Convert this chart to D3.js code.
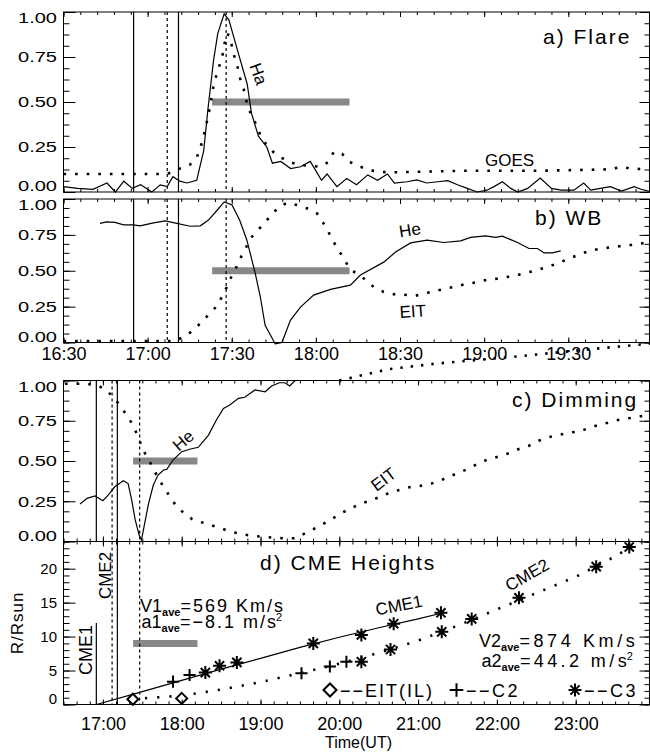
<!DOCTYPE html>
<html>
<head>
<meta charset="utf-8">
<script src="https://cdn.jsdelivr.net/npm/d3@7"></script>
<style>
  body { margin: 0; background: #fff; }
  svg text { font-family: "Liberation Sans", Arial, sans-serif; fill: #000; }
</style>
</head>
<body>
<script>
// ---------------- data ----------------
// panels a) and b): [minutes after 16:30 UT, normalised value]
var haFlare = [[0,0.03],[5,0.02],[10.5,0.015],[15.5,0.05],[18.5,0],[21.5,0.06],[24.5,0.02],[27.5,0.04],[31.5,0],[34.5,0.04],[37,0.03],[39,0.085],[41.5,0.06],[44,0.05],[47.5,0.065],[50,0.23],[51.5,0.46],[53.5,0.73],[55,0.88],[57.3,0.99],[59,0.955],[62,0.79],[65.5,0.6],[67,0.44],[69.5,0.31],[72.5,0.25],[74.5,0.16],[77.5,0.17],[81,0.13],[84.5,0.14],[88,0.17],[92,0.065],[94,0.1],[97.5,0.03],[101,0.075],[104.5,0.04],[108.5,0.095],[112,0.065],[115.5,0.1],[118,0.05],[122.5,0.057],[126,0.067],[129.5,0.05],[133.5,0.057],[137,0.063],[140.5,0.04],[144,0.02],[147.5,0],[151,0.01],[153.5,0.03],[156.5,0.057],[159.5,0.02],[162,0],[165.5,0.02],[170,0.078],[174,0.02],[177.5,0.01],[182,0.01],[185.5,0.05],[188,0.01],[191.5,0.02],[195,0.03],[199,0.005],[203.5,0.03],[206,0.015],[209.5,0]];
var goesFlare = [[0,0.1],[37,0.1],[41,0.128],[45,0.15],[47.5,0.19],[49.5,0.28],[51,0.38],[52.2,0.47],[53.5,0.59],[54.7,0.66],[56,0.72],[57,0.78],[58,0.88],[59.2,0.87],[60.6,0.77],[62,0.7],[63,0.63],[64.2,0.576],[65.7,0.474],[67.2,0.42],[68.8,0.372],[70.2,0.316],[72,0.27],[74.7,0.224],[77.7,0.19],[81,0.165],[84.5,0.15],[88,0.146],[91.6,0.14],[94.6,0.168],[96.4,0.224],[99.4,0.211],[102,0.168],[105.3,0.144],[109,0.122],[112.4,0.113],[116,0.109],[143,0.118],[170,0.118],[195,0.126],[198.8,0.14],[202,0.13],[209,0.126]];
var heWB = [[13,0.83],[15.4,0.84],[18.4,0.837],[21.4,0.82],[24.9,0.82],[27.3,0.813],[32.1,0.834],[36.3,0.848],[40.4,0.83],[45.2,0.81],[48.8,0.813],[51.7,0.853],[54.7,0.92],[57.3,0.98],[60.1,0.958],[62.8,0.853],[65.4,0.713],[68.4,0.48],[70.2,0.317],[71.9,0.12],[75.5,-0.01],[77.9,0],[80.9,0.154],[84.5,0.247],[89.2,0.33],[95.2,0.37],[102.3,0.4],[105.9,0.47],[114.2,0.56],[118.4,0.63],[123.8,0.694],[129.7,0.713],[135.6,0.697],[141.6,0.708],[145.2,0.732],[150.5,0.743],[154.1,0.732],[156.5,0.741],[161.9,0.697],[166,0.655],[169,0.655],[171.4,0.624],[174.4,0.624],[177.3,0.638]];
var eitWB = [[0,0.01],[40,0.01],[44.6,0.06],[47.6,0.11],[50.3,0.166],[52.7,0.21],[55.3,0.27],[56.9,0.336],[58.6,0.4],[60.1,0.47],[61.8,0.53],[63.4,0.6],[65.2,0.667],[66.9,0.73],[69.2,0.78],[72,0.84],[74.4,0.895],[77.1,0.95],[79.9,0.974],[83.3,0.958],[86.8,0.935],[90.4,0.9],[92.5,0.837],[94.5,0.77],[96.1,0.708],[98.1,0.643],[100.2,0.578],[102,0.515],[104.9,0.475],[107.7,0.438],[110.6,0.387],[114.2,0.352],[117.8,0.336],[121.4,0.333],[125.5,0.326],[128.5,0.34],[132.7,0.36],[136.2,0.375],[139.8,0.39],[144,0.41],[147.5,0.42],[151.1,0.438],[154.7,0.445],[158.3,0.457],[162.4,0.473],[166,0.49],[169.5,0.508],[173.1,0.53],[176.7,0.555],[180.3,0.585],[183.9,0.613],[187.4,0.638],[191,0.652],[194.6,0.662],[198.2,0.671],[201.8,0.678],[205.4,0.69],[208.9,0.694]];

// panel c): [decimal hours UT, normalised value]
var heDim = [[16.71,0.233],[16.8,0.268],[16.9,0.283],[17,0.253],[17.07,0.289],[17.15,0.34],[17.26,0.378],[17.32,0.36],[17.365,0.258],[17.41,0.134],[17.46,0.04],[17.49,0.01],[17.53,0.113],[17.58,0.237],[17.64,0.351],[17.7,0.413],[17.77,0.444],[17.81,0.448],[17.89,0.506],[18,0.558],[18.1,0.573],[18.21,0.585],[18.34,0.661],[18.44,0.755],[18.53,0.827],[18.61,0.848],[18.72,0.889],[18.8,0.896],[18.93,0.941],[19.06,0.93],[19.14,0.966],[19.24,0.986],[19.31,0.986],[19.37,0.966],[19.44,1]];
var eitDim = [[16.52,0.98],[16.65,0.98],[16.79,0.98],[16.92,0.97],[17.04,0.945],[17.12,0.9],[17.21,0.85],[17.28,0.8],[17.36,0.74],[17.42,0.68],[17.47,0.62],[17.52,0.56],[17.59,0.5],[17.65,0.44],[17.71,0.39],[17.78,0.33],[17.85,0.28],[17.93,0.22],[18.02,0.18],[18.13,0.14],[18.25,0.12],[18.38,0.1],[18.51,0.08],[18.63,0.06],[18.76,0.047],[18.9,0.034],[19.03,0.03],[19.16,0.024],[19.3,0.02],[19.43,0.02],[19.55,0.047],[19.67,0.076],[19.78,0.105],[19.9,0.138],[20.02,0.175],[20.15,0.206],[20.26,0.233],[20.39,0.253],[20.52,0.278],[20.64,0.303],[20.76,0.32],[20.89,0.337],[21.02,0.345],[21.15,0.357],[21.28,0.378],[21.41,0.407],[21.52,0.427],[21.65,0.455],[21.77,0.486],[21.89,0.511],[22.02,0.527],[22.15,0.548],[22.27,0.573],[22.4,0.593],[22.53,0.626],[22.65,0.647],[22.78,0.661],[22.91,0.676],[23.03,0.682],[23.16,0.703],[23.29,0.724],[23.41,0.738],[23.54,0.755],[23.67,0.765],[23.79,0.775],[23.92,0.786]];
var extraDim = [[20,1],[20.62,1.07],[21.25,1.106],[22.2,1.147],[23.16,1.193],[23.96,1.23]];

// panel d): [decimal hours UT, R/Rsun]
var cme1Fit = [[16.92,0],[17.5,1.9],[18,3.55],[18.5,5.2],[19,6.8],[19.5,8.4],[20,9.9],[20.5,11.3],[21,12.6],[21.28,13.4]];
var cme2Fit = [[17.38,0.8],[18,1.3],[18.5,2.2],[19,3.3],[19.5,4.6],[20,6],[20.5,7.6],[21,9.4],[21.5,11.6],[22,14],[22.5,16.4],[23,18.8],[23.5,21.8],[23.75,23.6]];
var c3Heights = [[18.3,4.7],[18.48,5.7],[18.7,6.2],[19.67,9],[20.28,10.25],[20.69,11.9],[21.29,13.5],[20.28,6.3],[20.65,8.1],[21.3,10.7],[21.68,12.6],[22.28,15.7],[23.26,20.3],[23.68,23.2]];
var c2Heights = [[17.89,3.36],[18.1,4.35],[19.52,4.6],[19.88,5.6],[20.09,6.3]];
var eitHeights = [[17.38,0.77],[18,0.9]];

// event markers, minutes after 16:30 UT (16:55, 17:11 solid; 17:07, 17:28 dotted)
var solidMarks = [25, 41];
var dottedMarks = [37, 58];
var barSpan = [53, 102];          // 17:23 - 18:12
var barLevels = [0.5, 0.5, 0.5, 9];

// ticks
var abTicks = [0, 30, 60, 90, 120, 150, 180];
var abLabels = ["16:30", "17:00", "17:30", "18:00", "18:30", "19:00", "19:30"];
var cdTicks = [17, 18, 19, 20, 21, 22, 23];
var cdLabels = ["17:00", "18:00", "19:00", "20:00", "21:00", "22:00", "23:00"];
var unitTicks = [0, 0.25, 0.5, 0.75, 1];
var unitLabels = ["0.00", "0.25", "0.50", "0.75", "1.00"];
var heightTicks = [0, 5, 10, 15, 20];
var heightLabels = ["0", "5", "10", "15", "20"];

// ---------------- layout ----------------
var L = 63.5, R = 649.5;
var svg = d3.select("body").append("svg").attr("width", 650).attr("height", 752);

var xAB = d3.scaleLinear().domain([0, 210]).range([L, 652.4]);
var xCD = d3.scaleLinear().domain([16.5, 24]).range([L, 654.5]);
var yA = d3.scaleLinear().domain([0, 1]).range([192, 12]);
var yB = d3.scaleLinear().domain([0, 1]).range([342.5, 199]);
var yC = d3.scaleLinear().domain([0, 1]).range([541.5, 380.5]);
var yD = d3.scaleLinear().domain([0, 24]).range([704.5, 541.5]);

function hours(m) { return 16.5 + m / 60; }

function inside(x) {
    return function (v) { return x(v) <= R + 0.1; };
}

function put(g, axis, tx, ty) {
    var a = g.append("g").attr("transform", "translate(" + tx + "," + ty + ")").call(axis);
    a.select(".domain").remove();
    a.attr("font-family", "Liberation Sans").attr("font-size", 15);
    a.selectAll("line").attr("stroke", "black");
    return a;
}

function frame(x, y, top, bottom, xMaj, xMin, xLab, xPad, yMaj, yMin, yLab, stretch) {
    var g = svg.append("g");
    put(g, d3.axisLeft(y).tickValues(yMin).tickSize(-6).tickFormat(""), L, 0);
    var yl = put(g, d3.axisLeft(y).tickValues(yMaj).tickSize(-12).tickPadding(6.5)
        .tickFormat(function (d, i) { return yLab[i]; }), L, 0);
    put(g, d3.axisRight(y).tickValues(yMin).tickSize(-5).tickFormat(""), R, 0);
    put(g, d3.axisRight(y).tickValues(yMaj).tickSize(-10).tickFormat(""), R, 0);
    put(g, d3.axisTop(x).tickValues(xMin).tickSize(-3).tickFormat(""), 0, top);
    put(g, d3.axisTop(x).tickValues(xMaj).tickSize(-5).tickFormat(""), 0, top);
    put(g, d3.axisBottom(x).tickValues(xMin).tickSize(-3).tickFormat(""), 0, bottom);
    var xl = put(g, d3.axisBottom(x).tickValues(xMaj).tickSize(-5).tickPadding(xPad)
        .tickFormat(function (d, i) { return xLab ? xLab[i] : ""; }), 0, bottom);
    xl.attr("font-size", 18);

    if (stretch) {
        yl.selectAll("text").attr("textLength", 39).attr("lengthAdjust", "spacingAndGlyphs");
    }
    // end labels sit a bit inside the frame
    yl.selectAll(".tick").filter(function (d) { return d === y.domain()[0]; })
        .select("text").attr("transform", "translate(0,-6)");
    yl.selectAll(".tick").filter(function (d) { return d === y.domain()[1]; })
        .select("text").attr("transform", "translate(0,6)");

    g.append("rect")
        .attr("x", L).attr("y", top)
        .attr("width", R - L).attr("height", bottom - top)
        .attr("fill", "none").attr("stroke", "black").attr("stroke-width", 1);
}

function curve(data, x, y, dotted, dash) {
    var line = d3.line()
        .x(function (d) { return x(d[0]); })
        .y(function (d) { return y(d[1]); });
    var p = svg.append("path").attr("d", line(data))
        .attr("fill", "none").attr("stroke", "black");
    if (dotted) p.attr("stroke-width", 2.6).attr("stroke-dasharray", dash || "2.6,9");
    else p.attr("stroke-width", 1.2);
    return p;
}

function vline(x, t, y0, y1, dotted) {
    var l = svg.append("line")
        .attr("x1", x(t)).attr("x2", x(t))
        .attr("y1", y0).attr("y2", y1)
        .attr("stroke", "black").attr("stroke-width", 1.2);
    if (dotted) l.attr("stroke-dasharray", "3,3");
}

function grayBar(x, y, t0, t1, level) {
    svg.append("line")
        .attr("x1", x(t0)).attr("x2", x(t1))
        .attr("y1", y(level)).attr("y2", y(level))
        .attr("stroke", "#888").attr("stroke-width", 7);
}

function label(txt, x, y, size, angle, anchor, ls) {
    return svg.append("text")
        .attr("transform", "translate(" + x + "," + y + ") rotate(" + (angle || 0) + ")")
        .attr("font-size", size)
        .attr("text-anchor", anchor || "start")
        .attr("letter-spacing", ls || 0)
        .text(txt);
}

function starPath(r) {
    var p = d3.path();
    for (var k = 0; k < 4; k++) {
        var a = k * Math.PI / 4;
        p.moveTo(-r * Math.cos(a), -r * Math.sin(a));
        p.lineTo(r * Math.cos(a), r * Math.sin(a));
    }
    return p.toString();
}

function symbols(data, x, y, kind, size) {
    var d = kind === "star" ? starPath(size)
        : d3.symbol(kind === "plus" ? d3.symbolPlus : d3.symbolDiamond2, size)();
    svg.append("g").selectAll("path").data(data).enter().append("path")
        .attr("transform", function (p) { return "translate(" + x(p[0]) + "," + y(p[1]) + ")"; })
        .attr("d", d)
        .attr("fill", kind === "diamond" ? "white" : "none")
        .attr("stroke", "black").attr("stroke-width", 2);
}

// ---------------- panels ----------------
var abMinor = d3.range(0, 211, 6).filter(inside(xAB));
var cdMinor = d3.range(16.5, 24.01, 1 / 6).filter(inside(xCD));
var unitMinor = d3.range(0, 1.001, 0.0625);
var heightMinor = d3.range(0, 24.5, 1);

// gray bars first, curves on top
grayBar(xAB, yA, barSpan[0], barSpan[1], barLevels[0]);
grayBar(xAB, yB, barSpan[0], barSpan[1], barLevels[1]);
grayBar(xCD, yC, hours(barSpan[0]), hours(barSpan[1]), barLevels[2]);
grayBar(xCD, yD, hours(barSpan[0]), hours(barSpan[1]), barLevels[3]);

// vertical event markers
solidMarks.forEach(function (m, i) {
    vline(xAB, m, 12, 192, false);
    vline(xAB, m, 199, 342.5, false);
    vline(xCD, hours(m), 380.5, 541.5, false);
    vline(xCD, hours(m), i === 0 ? yD(12) : 541.5, 704.5, false);
});
dottedMarks.forEach(function (m) {
    vline(xAB, m, 12, 192, true);
    vline(xAB, m, 199, 342.5, true);
    vline(xCD, hours(m), 380.5, 541.5, true);
    vline(xCD, hours(m), 541.5, 704.5, true);
});

// a) Flare
curve(haFlare, xAB, yA, false);
curve(goesFlare, xAB, yA, true);
frame(xAB, yA, 12, 192, abTicks, abMinor, null, 4, unitTicks, unitMinor, unitLabels, true);
label("a) Flare", 543, 43.5, 21, 0, "start", 2);
label("GOES", 485, 166, 17);
label("Ha", 253, 76, 17, 70, "middle");

// b) WB
curve(heWB, xAB, yB, false);
curve(eitWB, xAB, yB, true);
frame(xAB, yB, 199, 342.5, abTicks, abMinor, abLabels, 4.7, unitTicks, unitMinor, unitLabels, true);
label("b) WB", 535, 225, 21, 0, "start", 2);
label("He", 400, 237.5, 17, -9);
label("EIT", 400, 318, 17, -4);

// c) Dimming
curve(heDim, xCD, yC, false);
curve(eitDim, xCD, yC, true);
curve(extraDim, xCD, yC, true, "2.4,8");
frame(xCD, yC, 380.5, 541.5, cdTicks, cdMinor, null, 4, unitTicks, unitMinor, unitLabels, true);
label("c) Dimming", 512, 406.7, 21, 0, "start", 2);
label("He", 187, 445, 17, -40, "middle");
label("EIT", 387, 484, 17, -37, "middle");

// d) CME Heights
curve(cme1Fit, xCD, yD, false);
curve(cme2Fit, xCD, yD, true, "2.2,10");
symbols(eitHeights, xCD, yD, "diamond", 77);
symbols(c2Heights, xCD, yD, "plus", 50);
symbols(c3Heights, xCD, yD, "star", 6.5);
frame(xCD, yD, 541.5, 704.5, cdTicks, cdMinor, cdLabels, 12.7, heightTicks, heightMinor, heightLabels, false);
label("d) CME Heights", 260, 570, 21, 0, "start", 2);
label("CME1", 92, 650, 18, -90, "middle");
label("CME2", 111, 575.5, 17, -90, "middle");
label("CME1", 400, 611, 17, -11, "middle");
label("CME2", 530, 580, 17, -30, "middle");

function speedText(x, y, head, tail, ls, sup) {
    var t = svg.append("text").attr("x", x).attr("y", y).attr("font-size", 18);
    t.append("tspan").text(head);
    t.append("tspan").attr("dy", 4).attr("font-size", 11).attr("font-weight", "bold").text("ave");
    t.append("tspan").attr("dy", -4).attr("letter-spacing", ls).text(tail);
    if (sup) t.append("tspan").attr("dy", -7).attr("dx", -ls).attr("font-size", 11).text(sup);
}
speedText(140, 611.7, "V1", "=569 Km/s", 2);
speedText(141.5, 628, "a1", "=\u22128.1 m/s", 2, "2");
speedText(479, 646.7, "V2", "=874 Km/s", 3.6);
speedText(481.5, 666.7, "a2", "=44.2 m/s", 3.4, "2");

// legend
symbols([[0, 0]], function () { return 330; }, function () { return 690; }, "diamond", 108);
symbols([[0, 0]], function () { return 456.5; }, function () { return 690; }, "plus", 62);
symbols([[0, 0]], function () { return 575; }, function () { return 690; }, "star", 6.5);
label("\u2212\u2212EIT(IL)", 340, 697, 18, 0, "start", 2);
label("\u2212\u2212C2", 466, 697, 18, 0, "start", 2.5);
label("\u2212\u2212C3", 584, 697, 18, 0, "start", 2.5);

// axis titles
label("R/Rsun", 23, 623, 17, -90, "middle", 1);
label("Time(UT)", 358.5, 748, 16, 0, "middle");
</script>
</body>
</html>
